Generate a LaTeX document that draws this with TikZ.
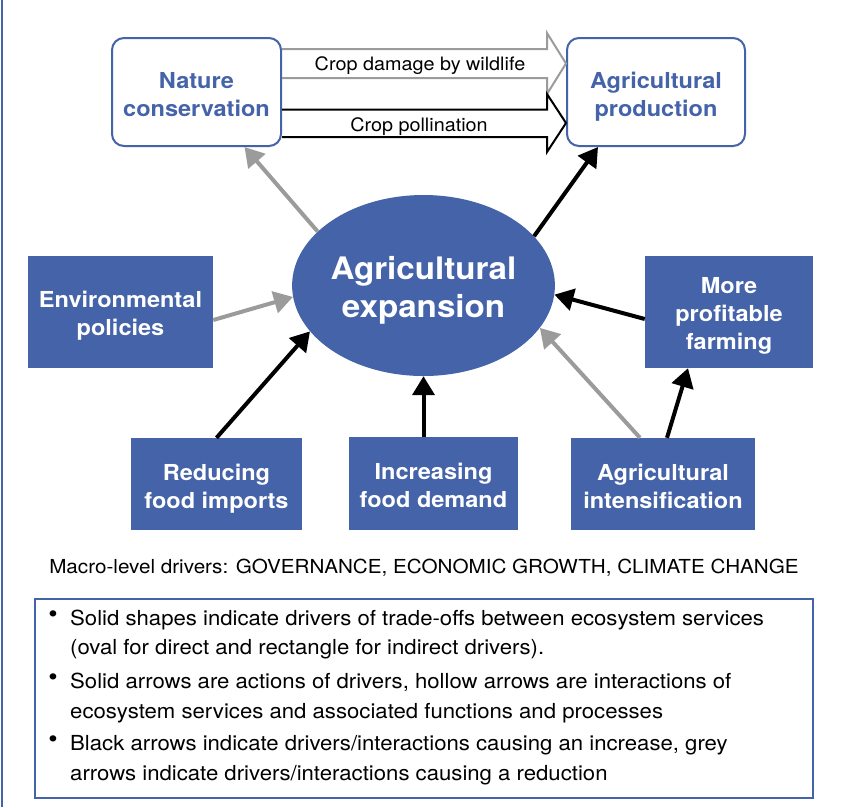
\documentclass[tikz,border=0pt]{standalone}
\usepackage{fontspec}
\setmainfont{TeX Gyre Heros}[FakeStretch=1.07]
\usepackage{tikz}
\usetikzlibrary{arrows.meta,shapes.geometric}
\definecolor{driverblue}{RGB}{69,99,168}
\definecolor{arrowgrey}{RGB}{155,155,155}
\newcommand{\lift}[1]{\rule{0pt}{#1}}

\begin{document}
\begin{tikzpicture}[x=1pt,y=-1pt]
\tikzset{driver/.style={fill=driverblue,text=white,align=center,inner sep=0pt,
           font=\bfseries\fontsize{22}{28}\selectfont},
         topbox/.style={draw=driverblue,line width=2pt,rounded corners=12pt,fill=white,
           text=driverblue,align=center,inner sep=0pt,minimum height=108pt,
           font=\bfseries\fontsize{22}{28}\selectfont},
         oval/.style={ellipse,fill=driverblue,text=white,align=center,inner sep=0pt,
           minimum width=249pt,minimum height=181pt,
           font=\bfseries\fontsize{31}{38}\selectfont},
         blackarrow/.style={line width=4pt,-{Triangle[length=19pt,width=22pt]}},
         greyarrow/.style={blackarrow,draw=arrowgrey},
         hollow/.style={line width=2pt,line join=miter},
         plain/.style={font=\fontsize{18.5}{22}\selectfont,inner sep=0pt,anchor=base},
         legendline/.style={font=\fontsize{20.7}{24}\selectfont,inner sep=0pt,anchor=base west},
         dot/.style={font=\fontsize{25}{25}\selectfont,inner sep=0pt}}
\useasboundingbox (0,0) rectangle (858,807);
\draw[driverblue,line width=2.5pt] (2,0) -- (2,807);

% ecosystem services
\node[topbox,minimum width=169pt] (nat) at (196.5,92) {\lift{22pt}Nature\\conservation};
\node[topbox,minimum width=178pt] (agr) at (656,92) {\lift{26pt}Agricultural\\production};

% direct and indirect drivers
\node[oval] (exp) at (423.5,285.5) {\lift{32.5pt}Agricultural\\expansion};
\node[driver,minimum width=185pt,minimum height=112pt] (env) at (120.5,312) {\lift{24pt}Environmental\\policies};
\node[driver,minimum width=168pt,minimum height=112pt] (prof) at (729,312) {\lift{24pt}More\\profitable\\farming};
\node[driver,minimum width=171pt,minimum height=92pt] (red) at (216.5,484) {\lift{25pt}Reducing\\food imports};
\node[driver,minimum width=169pt,minimum height=93pt] (inc) at (433.5,483.5) {\lift{21pt}Increasing\\food demand};
\node[driver,minimum width=184pt,minimum height=92pt] (agi) at (663,484) {\lift{22pt}Agricultural\\intensification};

% hollow arrows
\draw[hollow,arrowgrey] (nat.east |- 0,49) -| ([xshift=-19pt]agr.west |- 0,33)
   -- (agr.west |- 0,63.5) -- ([xshift=-19pt]agr.west |- 0,94) |- (nat.east |- 0,78);
\draw[hollow,black] (nat.east |- 0,109.5) -| ([xshift=-19pt]agr.west |- 0,94)
   -- (agr.west |- 0,123) -- ([xshift=-19pt]agr.west |- 0,152) |- (nat.east |- 0,137);
\node[plain] (dmg) at (420,70) {Crop damage by wildlife};
\node[plain] (pol) at (419,131.5) {Crop pollination};

% solid arrows
\draw[greyarrow] (exp.153) -- ([xshift=48pt]nat.south);
\draw[blackarrow] (exp.24) -- ([xshift=-58pt]agr.south);
\draw[greyarrow] ([yshift=-8pt]env.east) -- (exp.185);
\draw[blackarrow] ([yshift=-7pt]prof.west) -- (exp.-4);
\draw[blackarrow] (red.north) -- (exp.202);
\draw[blackarrow] (inc.north -| exp.south) -- (exp.south);
\draw[greyarrow] ([xshift=-23pt]agi.north) -- (exp.-20);
\draw[blackarrow] ([xshift=4pt]agi.north) -- ([xshift=-41pt]prof.south);

% macro drivers and legend
\node[plain,font=\fontsize{19.3}{22}\selectfont] (mac) at (424,573) {Macro-level drivers: GOVERNANCE, ECONOMIC GROWTH, CLIMATE CHANGE};
\node[draw=driverblue,line width=2pt,minimum width=778pt,minimum height=199pt,inner sep=0pt] (leg) at (424,698.5) {};
\node[dot] (b1) at (53,617) {\textbullet};
\node[dot] (b2) at (53,680) {\textbullet};
\node[dot] (b3) at (53,742) {\textbullet};
\node[legendline] (l1) at (70,625.5) {Solid shapes indicate drivers of trade-offs between ecosystem services};
\node[legendline] (l2) at (70,654.5) {(oval for direct and rectangle for indirect drivers).};
\node[legendline] (l3) at (70,688.5) {Solid arrows are actions of drivers, hollow arrows are interactions of};
\node[legendline] (l4) at (70,718.5) {ecosystem services and associated functions and processes};
\node[legendline] (l5) at (70,750.5) {Black arrows indicate drivers/interactions causing an increase, grey};
\node[legendline] (l6) at (70,780.5) {arrows indicate drivers/interactions causing a reduction};
\end{tikzpicture}
\end{document}
